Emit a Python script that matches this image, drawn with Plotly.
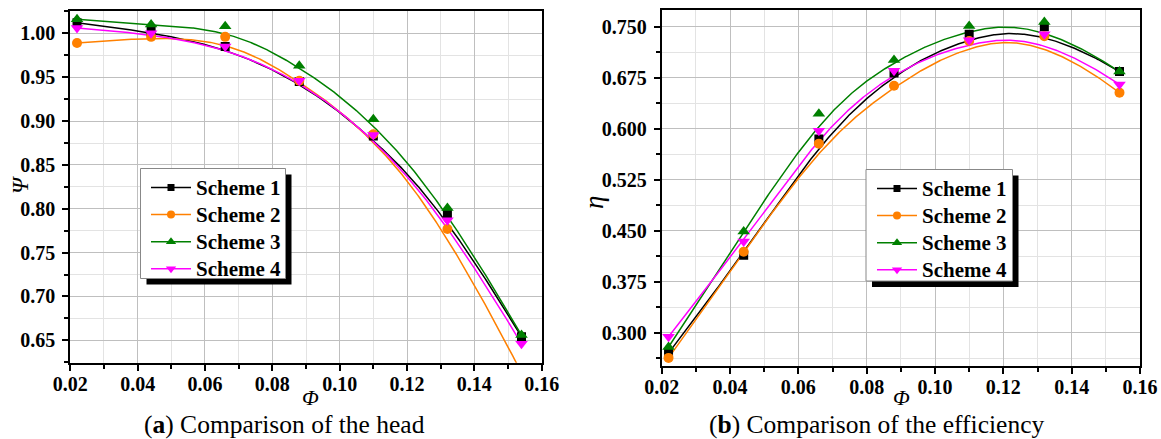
import numpy as np
import plotly.graph_objects as go

W, H = 1161, 439

# ---------------- data ----------------
phi = [0.022, 0.044, 0.066, 0.088, 0.110, 0.132, 0.154]
schemes = ["Scheme 1", "Scheme 2", "Scheme 3", "Scheme 4"]

head_s1 = [1.012, 1.002, 0.985, 0.945, 0.883, 0.794, 0.654]
head_s2 = [0.989, 0.996, 0.996, 0.946, 0.885, 0.777, 0.613]
head_s3 = [1.016, 1.010, 1.008, 0.963, 0.902, 0.801, 0.656]
head_s4 = [1.006, 1.000, 0.985, 0.946, 0.884, 0.787, 0.646]

eff_s1 = [0.270, 0.414, 0.585, 0.682, 0.739, 0.750, 0.684]
eff_s2 = [0.263, 0.419, 0.578, 0.663, 0.729, 0.736, 0.653]
eff_s3 = [0.279, 0.449, 0.622, 0.701, 0.751, 0.757, 0.684]
eff_s4 = [0.294, 0.434, 0.597, 0.685, 0.730, 0.739, 0.665]

head = [head_s1, head_s2, head_s3, head_s4]
eff = [eff_s1, eff_s2, eff_s3, eff_s4]

# ---------------- styles ----------------
colors = ["#000000", "#FF8000", "#008000", "#FF00FF"]
symbols = ["square", "circle", "triangle-up", "triangle-down"]
msizes = [9, 10, 11, 11]

SERIF = "Liberation Serif"


def bspline(xp, yp, k=3, n=400):
    """Clamped uniform B-spline using the data points as control points."""
    P = np.column_stack([xp, yp]).astype(float)
    m = len(P)
    inner = np.arange(1, m - k) / (m - k)
    t = np.concatenate([np.zeros(k + 1), inner, np.ones(k + 1)])
    u = np.linspace(0, 1, n)
    u[-1] = 1 - 1e-12
    N = np.zeros((n, len(t) - 1))
    for i in range(len(t) - 1):
        N[:, i] = (u >= t[i]) & (u < t[i + 1])
    for d in range(1, k + 1):
        Nn = np.zeros((n, len(t) - 1 - d))
        for i in range(len(t) - 1 - d):
            a = 0.0
            if t[i + d] > t[i]:
                a = (u - t[i]) / (t[i + d] - t[i]) * N[:, i]
            b = 0.0
            if t[i + d + 1] > t[i + 1]:
                b = (t[i + d + 1] - u) / (t[i + d + 1] - t[i + 1]) * N[:, i + 1]
            Nn[:, i] = a + b
        N = Nn
    C = N @ P
    return C[:, 0], C[:, 1]


fig = go.Figure()


def add_panel(data, xa, ya, legend_name):
    for i, ys in enumerate(data):
        cx, cy = bspline(phi, ys)
        fig.add_trace(go.Scatter(
            x=cx, y=cy, mode="lines",
            line=dict(color=colors[i], width=1.5),
            xaxis=xa, yaxis=ya, showlegend=False, hoverinfo="skip"))
    for i, ys in enumerate(data):
        fig.add_trace(go.Scatter(
            x=phi, y=ys, mode="markers",
            marker=dict(color=colors[i], symbol=symbols[i], size=msizes[i],
                        line=dict(width=0)),
            xaxis=xa, yaxis=ya, showlegend=False, name=schemes[i]))
    for i in range(4):
        fig.add_trace(go.Scatter(
            x=[None], y=[None], mode="lines+markers",
            name='<span style="font-size:21px">%s</span>' % schemes[i],
            line=dict(color=colors[i], width=1.5),
            marker=dict(color=colors[i], symbol=symbols[i], size=msizes[i] - 2),
            xaxis=xa, yaxis=ya, showlegend=True, legend=legend_name))


add_panel(head, "x", "y", "legend")
add_panel(eff, "x2", "y2", "legend2")

tickfont = dict(family=SERIF, size=20, color="black", weight="bold")


def xaxis_cfg(domain, anchor):
    return dict(
        domain=domain, range=[0.02, 0.16], tick0=0.02, dtick=0.02,
        tickformat=".2f", ticks="outside", ticklen=6, tickwidth=1.5,
        tickcolor="black", showline=True, linecolor="black", linewidth=2,
        mirror=True, showgrid=True, gridcolor="#bfbfbf", gridwidth=1,
        minor=dict(dtick=0.01, showgrid=True, gridcolor="#e3e3e3",
                   ticks="outside", ticklen=4, tickcolor="black"),
        tickfont=tickfont, zeroline=False, anchor=anchor, automargin=False,
        ticklabelstandoff=-4)


def yaxis_cfg(domain, rng, t0, dt, fmt, anchor):
    return dict(
        domain=domain, range=rng, tick0=t0, dtick=dt, tickformat=fmt,
        ticks="outside", ticklen=6, tickwidth=1.5, tickcolor="black",
        showline=True, linecolor="black", linewidth=2, mirror=True,
        showgrid=True, gridcolor="#bfbfbf", gridwidth=1,
        minor=dict(dtick=dt / 2, showgrid=True, gridcolor="#e3e3e3",
                   ticks="outside", ticklen=4, tickcolor="black"),
        tickfont=tickfont, zeroline=False, anchor=anchor, automargin=False,
        ticklabelstandoff=3)


def px(x):
    return x / W


def py(y):
    return 1 - y / H


fig.update_layout(
    width=W, height=H, margin=dict(l=0, r=0, t=0, b=0, autoexpand=False),
    paper_bgcolor="white", plot_bgcolor="white",
    xaxis=xaxis_cfg([px(70.3), px(541.7)], "y"),
    yaxis=yaxis_cfg([py(362.7), py(11)], [0.6245, 1.0255], 0.65, 0.05, ".2f", "x"),
    xaxis2=xaxis_cfg([px(661.7), px(1140)], "y2"),
    yaxis2=yaxis_cfg([py(365.7), py(10)], [0.2515, 0.7745], 0.3, 0.075, ".3f", "x2"),
)

legfont = dict(family=SERIF, size=18.5, color="black", weight="bold")
fig.update_layout(
    legend=dict(x=px(146), y=py(169), xanchor="left", yanchor="top",
                bgcolor="rgba(0,0,0,0)", borderwidth=0, font=legfont,
                itemwidth=40, tracegroupgap=0),
    legend2=dict(x=px(872), y=py(170), xanchor="left", yanchor="top",
                 bgcolor="rgba(0,0,0,0)", borderwidth=0, font=legfont,
                 itemwidth=40, tracegroupgap=0),
)

# legend frames with drop shadow
shapes = []
for (x0, y0, x1, y1) in [(140.5, 168.5, 285.5, 278.5), (866, 169.5, 1012.5, 281)]:
    shapes.append(dict(type="rect", xref="paper", yref="paper",
                       x0=px(x0 + 6), x1=px(x1 + 6), y0=py(y1 + 6), y1=py(y0 + 6),
                       fillcolor="black", line=dict(width=0), layer="above"))
    shapes.append(dict(type="rect", xref="paper", yref="paper",
                       x0=px(x0), x1=px(x1), y0=py(y1), y1=py(y0),
                       fillcolor="white", line=dict(color="#888888", width=1),
                       layer="above"))
fig.update_layout(shapes=shapes)

annos = [
    dict(text="<i>Ψ</i>", x=px(20), y=py(185), textangle=-90, yanchor="middle",
         font=dict(family=SERIF, size=23, color="black")),
    dict(text="<i>η</i>", x=px(594), y=py(203), textangle=-90, yanchor="middle",
         font=dict(family=SERIF, size=27, color="black")),
    dict(text="<i>Φ</i>", x=px(310), y=py(397), yanchor="middle",
         font=dict(family=SERIF, size=22, color="black")),
    dict(text="<i>Φ</i>", x=px(902), y=py(397), yanchor="middle",
         font=dict(family=SERIF, size=22, color="black")),
    dict(text="(<b>a</b>) Comparison of the head", x=px(284), y=py(441),
         yanchor="bottom",
         font=dict(family=SERIF, size=25.5, color="black")),
    dict(text="(<b>b</b>) Comparison of the efficiency", x=px(876), y=py(441),
         yanchor="bottom",
         font=dict(family=SERIF, size=25.5, color="black")),
]
for a in annos:
    a.update(xref="paper", yref="paper", showarrow=False, xanchor="center")
fig.update_layout(annotations=annos)

fig.write_html("out.html")
